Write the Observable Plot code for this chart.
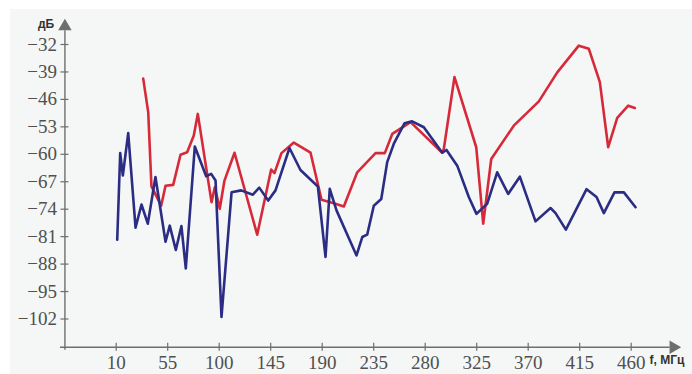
<!DOCTYPE html>
<html><head><meta charset="utf-8">
<script src="https://cdn.jsdelivr.net/npm/d3@7"></script>
<script src="https://cdn.jsdelivr.net/npm/@observablehq/plot@0.6"></script>
<style>
html,body{margin:0;padding:0;background:#fff;}
#wrap{position:relative;width:692px;height:374px;overflow:hidden;}
#bg{position:absolute;left:10px;top:9px;right:0;bottom:0;background:#f4f7f5;}
#chart{position:absolute;left:0;top:0;}
</style></head><body>
<div id="wrap"><div id="bg"></div><div id="chart"></div></div>
<script>
// Blue series: frequency (MHz) and level (dB)
const blueF = [10.9,13.5,15.8,20.5,26.9,32.1,37.6,44.3,53.1,56.8,62.1,67.0,70.8,78.7,88.6,93.0,96.8,102.0,110.8,119.2,129.4,135.0,142.8,149.2,161.4,171.0,186.2,192.9,196.6,202.5,220.0,225.0,229.3,235.1,241.6,246.8,252.6,261.9,268.6,278.8,294.9,298.6,308.0,318.1,324.8,334.2,342.9,352.5,362.7,376.4,389.5,393.9,402.9,421.0,429.7,436.1,445.4,453.6,463.8];
const blueDb = [-81.8,-59.7,-65.4,-54.6,-78.7,-72.8,-77.7,-65.8,-82.3,-78.2,-84.4,-78.3,-89.1,-58.0,-65.6,-65.0,-66.7,-101.5,-69.7,-69.2,-70.3,-68.5,-71.8,-69.2,-58.4,-64.0,-68.2,-86.2,-68.8,-74.3,-85.8,-81.1,-80.5,-73.1,-71.4,-62.0,-57.3,-52.1,-51.6,-53.1,-59.6,-58.9,-62.9,-70.9,-75.2,-72.6,-64.6,-70.1,-65.7,-77.1,-73.7,-75.0,-79.2,-68.9,-70.9,-75.0,-69.7,-69.7,-73.5];
// Red series
const redF = [33.6,38.0,40.8,49.3,53.1,59.8,66.2,72.0,77.8,81.3,93.3,96.2,100.5,104.6,113.4,133.2,145.4,148.3,154.4,165.2,179.8,189.4,200.1,208.9,220.6,236.6,244.7,251.2,267.2,294.9,296.3,305.6,324.6,330.7,337.7,357.4,379.3,395.4,414.2,423.0,432.6,439.9,447.8,457.4,463.2];
const redDb = [-40.7,-49.3,-68.2,-73.1,-68.0,-67.8,-60.1,-59.5,-55.2,-49.7,-72.2,-68.4,-73.9,-66.7,-59.6,-80.5,-63.9,-64.8,-59.7,-57.0,-59.6,-71.6,-72.5,-73.3,-64.6,-59.7,-59.7,-54.8,-51.8,-59.6,-58.6,-40.3,-58.2,-77.7,-61.2,-52.7,-46.5,-39.1,-32.3,-33.1,-41.6,-58.2,-50.7,-47.6,-48.2];
const xTicks = [10,55,100,145,190,235,280,325,370,415,460];
const yTicks = [-32,-39,-46,-53,-60,-67,-74,-81,-88,-95,-102];
const yUnit = "дБ";
const xUnit = "f, МГц";

const blue = blueF.map((f,i)=>({f, db: blueDb[i]}));
const red = redF.map((f,i)=>({f, db: redDb[i]}));

const axX = -34.8;   // where the vertical axis sits (in MHz units)
const axY = -109.2;  // where the horizontal axis sits (in dB units)
const axisColor = "#6e6e6e";
const labelColor = "#505050";
const serif = "Liberation Serif";
const fmt = v => (v < 0 ? "\u2212" + Math.abs(v) : String(v));

const chart = Plot.plot({
  width: 692,
  height: 374,
  style: {background: "transparent", overflow: "visible"},
  x: {domain: [10, 460], range: [115.7, 630.7], axis: null},
  y: {domain: [-102, -32], range: [318.5, 44], axis: null},
  marks: [
    Plot.ruleY([axY], {x1: -38.7, x2: 494, stroke: axisColor, strokeWidth: 1.4}),
    Plot.ruleX([axX], {y1: -110.0, y2: -28.5, stroke: axisColor, strokeWidth: 1.4}),
    Plot.dot([{x: 496.9, y: axY}], {x: "x", y: "y", symbol: "triangle", r: 5, fill: axisColor, stroke: "none", rotate: 90}),
    Plot.dot([{x: axX, y: -27.4}], {x: "x", y: "y", symbol: "triangle", r: 5, fill: axisColor, stroke: "none"}),
    Plot.ruleX(xTicks, {x: d => d, y1: axY - 1.0, y2: axY + 1.0, stroke: axisColor, strokeWidth: 1.2}),
    Plot.ruleY(yTicks, {y: d => d, x1: axX - 3.5, x2: axX + 3.5, stroke: axisColor, strokeWidth: 1.2}),
    Plot.text(xTicks, {x: d => d, y: axY, text: d => fmt(d), dy: 16, lineAnchor: "middle", textAnchor: "middle",
      fontSize: 19, fontFamily: serif, fill: labelColor}),
    Plot.text(yTicks, {x: axX, y: d => d, text: d => fmt(d), dx: -8, lineAnchor: "middle", textAnchor: "end",
      fontSize: 19, fontFamily: serif, fill: labelColor}),
    Plot.text([yUnit], {x: -51.3, y: -26.9, text: d => d, textAnchor: "middle", lineAnchor: "middle",
      fontSize: 12, fontWeight: 600, fontFamily: "Liberation Sans", fill: "#333"}),
    Plot.text([xUnit], {x: 476.0, y: -112.6, text: d => d, textAnchor: "start", lineAnchor: "middle",
      fontSize: 12, fontWeight: 600, fontFamily: "Liberation Sans", fill: "#333"}),
    Plot.line(red, {x: "f", y: "db", stroke: "#d62a3a", strokeWidth: 2.6, strokeLinejoin: "round"}),
    Plot.line(blue, {x: "f", y: "db", stroke: "#2b2d84", strokeWidth: 2.6, strokeLinejoin: "round"})
  ]
});
document.getElementById("chart").appendChild(chart);
</script>
</body></html>
